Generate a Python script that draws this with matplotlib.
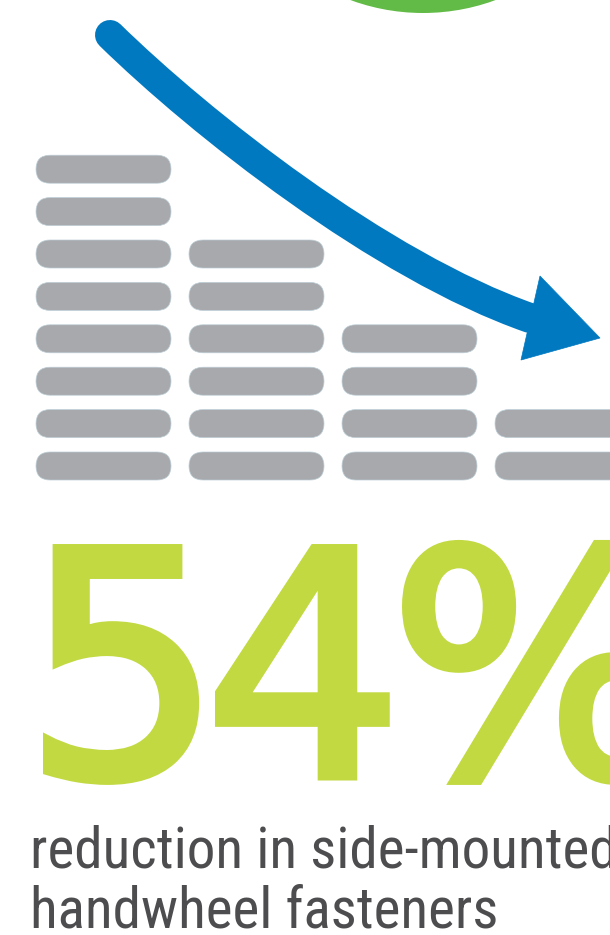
import matplotlib
matplotlib.use('Agg')
import matplotlib.pyplot as plt
from matplotlib import font_manager
from matplotlib.font_manager import FontProperties
from matplotlib.patches import FancyBboxPatch, PathPatch, Polygon, Circle
from matplotlib.path import Path
from matplotlib.textpath import TextPath
import matplotlib.patheffects as pe

# stacks of pills, left to right
pill_counts = [8, 6, 4, 2]
big_value = '54%'
caption = ['reduction in side-mounted', 'handwheel fasteners']

grey = '#A7A9AC'
blue = '#0079C1'
green = '#62BB46'
lime = '#C2D942'
dark = '#4D4D4F'


def wnum(w):
    if isinstance(w, (int, float)):
        return int(w)
    return font_manager.weight_dict.get(str(w).lower(), 400)


def pick_caption_font():
    # a regular-weight narrow sans, like the condensed face of the original
    named = ['Noto Sans Condensed', 'Liberation Sans Narrow', 'Roboto Condensed',
             'Open Sans Condensed', 'DejaVu Sans Condensed']
    stretched = ['Noto Sans', 'Open Sans', 'Roboto', 'DejaVu Sans']
    found = []
    for f in font_manager.fontManager.ttflist:
        if f.style != 'normal':
            continue
        w = wnum(f.weight)
        if w not in (300, 400):
            continue
        st = str(f.stretch)
        if f.name in named:
            rank = named.index(f.name)
            found.append((0 if w == 400 else 1, rank, f.name, 'normal', w))
        elif f.name in stretched and st in ('condensed', 'semi-condensed', '75', '87'):
            rank = stretched.index(f.name)
            found.append((0 if w == 400 else 1, 10 + rank, f.name, st, w))
    if found:
        found.sort()
        return found[0][2], found[0][3], found[0][4]
    return 'Open Sans', 'normal', 400


cap_family, cap_stretch, cap_weight = pick_caption_font()

fig = plt.figure(figsize=(6.1, 9.35), dpi=100)
ax = fig.add_axes([0, 0, 1, 1])
ax.set_xlim(0, 610)
ax.set_ylim(935, 0)
ax.axis('off')

# green circle peeking in at the top
ax.add_patch(Circle((423, -197), 210, color=green, lw=0))

# pills
pw, ph = 135, 28
for i, n in enumerate(pill_counts):
    x0 = 36 + i * 153
    for j in range(n):
        yc = 466 - j * 42.4
        ax.add_patch(FancyBboxPatch((x0, yc - ph / 2), pw, ph,
                                    boxstyle='round,pad=0,rounding_size=14',
                                    fc=grey, ec='#BCCDD6', lw=0.5))

# curved arrow
verts = [(110, 35), (200, 123), (380, 265.5), (530, 318)]
codes = [Path.MOVETO, Path.CURVE4, Path.CURVE4, Path.CURVE4]
ax.add_patch(PathPatch(Path(verts, codes), fill=False, ec=blue, lw=21.6,
                       capstyle='round', joinstyle='round'))
ax.add_patch(Polygon([(540, 276), (600, 338), (521, 360)], closed=True,
                     fc=blue, ec=blue, lw=0.5))

# big number, one glyph at a time so the spacing matches
em_px = 312
stroke_px = 9
big_prop = FontProperties(family='DejaVu Sans')
glyph_left = [43, 215, 402]
for ch, left in zip(big_value, glyph_left):
    lsb = TextPath((0, 0), ch, size=em_px, prop=big_prop).get_extents().x0
    ax.text(left + stroke_px / 2 - lsb, 776, ch, fontsize=em_px * 0.72,
            color=lime, fontproperties=big_prop, ha='left', va='baseline',
            path_effects=[pe.withStroke(linewidth=stroke_px * 0.72,
                                        foreground=lime, joinstyle='miter')])

# caption, sized so the second line spans the same width as the reference
fs = 39.6
kw = dict(color=dark, family=[cap_family, 'DejaVu Sans'], fontstretch=cap_stretch,
          fontweight=cap_weight, ha='left', va='baseline')
t1 = ax.text(30, 868, caption[0], fontsize=fs, **kw)
t2 = ax.text(30, 927, caption[1], fontsize=fs, **kw)
r = fig.canvas.get_renderer()
w = t2.get_window_extent(r).width
scale = min(1.15, max(0.8, 468 / w))
for t in (t1, t2):
    t.set_fontsize(fs * scale)

fig.savefig('out.png', dpi=100)
